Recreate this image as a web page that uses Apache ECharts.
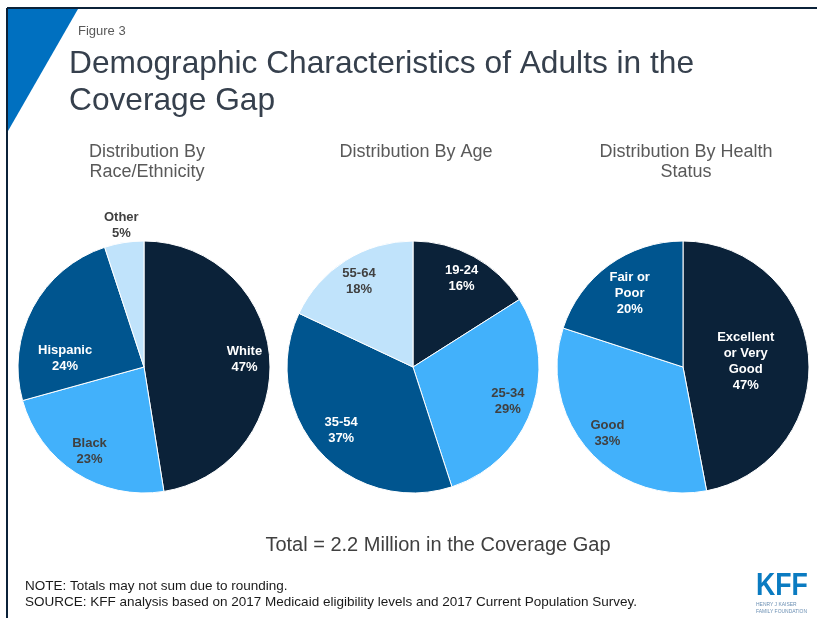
<!DOCTYPE html>
<html>
<head>
<meta charset="utf-8">
<script src="https://cdn.jsdelivr.net/npm/echarts@6/dist/echarts.min.js"></script>
<style>
  html, body { margin: 0; padding: 0; background: #ffffff; }
  #chart { width: 817px; height: 618px; }
</style>
</head>
<body>
<div id="chart"></div>
<script>
// Shares of adults in the coverage gap (percent)
const raceNames = ['White', 'Black', 'Hispanic', 'Other'];
const raceValues = [47, 23, 24, 5];

const ageNames = ['19-24', '25-34', '35-54', '55-64'];
const ageValues = [16, 29, 37, 18];

const healthNames = ['Excellent\nor Very\nGood', 'Good', 'Fair or\nPoor'];
const healthValues = [47, 33, 20];

const panelTitles = ['Distribution By\nRace/Ethnicity', 'Distribution By Age', 'Distribution By Health\nStatus'];

// Slice colours, in slice order (clockwise from 12 o'clock)
const sliceColors = ['#0b2239', '#42b1fb', '#00558f', '#c0e3fb'];
const labelColors = ['#ffffff', '#404040', '#ffffff', '#404040'];

// Where each label sits: fraction of the radius from the centre, optional angular nudge (deg)
const labelPlacement = {
  'Hispanic': { r: 0.63, turn: -22 },
  'Other': { r: 1.14 },
  '35-54': { r: 0.76 },
  'Excellent\nor Very\nGood': { r: 0.5 },
  'Fair or\nPoor': { r: 0.72 }
};

const FONT = "'Liberation Sans', Arial, Helvetica, sans-serif";
const RADIUS = 126;
const centers = [[144, 367], [413, 367], [683, 367]];
const panels = [
  { names: raceNames, values: raceValues },
  { names: ageNames, values: ageValues },
  { names: healthNames, values: healthValues }
];

function midAngles(values) {
  const total = values.reduce((a, b) => a + b, 0);
  let acc = 0;
  return values.map(v => {
    const mid = (acc + v / 2) / total * 360;
    acc += v;
    return mid;
  });
}

const series = panels.map((p, si) => {
  const mids = midAngles(p.values);
  return {
    type: 'pie',
    center: centers[si],
    radius: RADIUS,
    startAngle: 90,
    clockwise: true,
    silent: true,
    itemStyle: { borderColor: '#ffffff', borderWidth: 1 },
    label: {
      show: true,
      position: 'inside',
      formatter: '{b}\n{c}%',
      fontFamily: FONT,
      fontWeight: 'bold',
      fontSize: 13,
      lineHeight: 16,
      align: 'center'
    },
    labelLine: { show: false },
    labelLayout: function (params) {
      const name = p.names[params.dataIndex];
      const place = labelPlacement[name] || {};
      const ratio = place.r != null ? place.r : 0.8;
      const ang = (mids[params.dataIndex] + (place.turn || 0)) * Math.PI / 180;
      const c = centers[si];
      return {
        x: c[0] + Math.sin(ang) * RADIUS * ratio,
        y: c[1] - Math.cos(ang) * RADIUS * ratio,
        align: 'center',
        verticalAlign: 'middle'
      };
    },
    data: p.names.map((n, i) => ({
      name: n,
      value: p.values[i],
      itemStyle: { color: sliceColors[i] },
      label: { color: labelColors[i] }
    }))
  };
});

const subtitleGraphics = panelTitles.map((t, i) => ({
  type: 'text',
  x: centers[i][0] + 3,
  y: 142,
  style: {
    text: t,
    font: '18px ' + FONT,
    fill: '#595959',
    align: 'center',
    verticalAlign: 'top',
    lineHeight: 20
  }
}));

const chart = echarts.init(document.getElementById('chart'), null, { renderer: 'canvas' });
chart.setOption({
  animation: false,
  backgroundColor: '#ffffff',
  series: series,
  graphic: [
    // frame
    { type: 'line', shape: { x1: 7, y1: 8, x2: 817, y2: 8 }, style: { stroke: '#0b2239', lineWidth: 2 } },
    { type: 'line', shape: { x1: 7, y1: 8, x2: 7, y2: 618 }, style: { stroke: '#0b2239', lineWidth: 2 } },
    // corner accent
    { type: 'polygon', shape: { points: [[8, 9], [78, 9], [8, 131]] }, style: { fill: '#0070c0' } },
    // headings
    { type: 'text', x: 78, y: 31, style: { text: 'Figure 3', font: '13px ' + FONT, fill: '#595959', verticalAlign: 'middle' } },
    { type: 'text', x: 69, y: 64, scaleX: 0.99, style: { text: 'Demographic Characteristics of Adults in the', font: '32px ' + FONT, fill: '#36404d', verticalAlign: 'middle' } },
    { type: 'text', x: 69, y: 101, scaleX: 0.99, style: { text: 'Coverage Gap', font: '32px ' + FONT, fill: '#36404d', verticalAlign: 'middle' } },
    ...subtitleGraphics,
    { type: 'text', x: 438, y: 545, style: { text: 'Total = 2.2 Million in the Coverage Gap', font: '20px ' + FONT, fill: '#404040', align: 'center', verticalAlign: 'middle' } },
    // notes
    { type: 'text', x: 25, y: 586, style: { text: 'NOTE: Totals may not sum due to rounding.', font: '13.5px ' + FONT, fill: '#1a1a1a', verticalAlign: 'middle' } },
    { type: 'text', x: 25, y: 602, style: { text: 'SOURCE: KFF analysis based on 2017 Medicaid eligibility levels and 2017 Current Population Survey.', font: '13.5px ' + FONT, fill: '#1a1a1a', verticalAlign: 'middle' } },
    // logo
    { type: 'text', x: 756, y: 586, scaleX: 0.86, style: { text: 'KFF', font: "bold 31px " + FONT, fill: '#0a7bc1', verticalAlign: 'middle' } },
    { type: 'text', x: 756, y: 604, scaleX: 0.9, style: { text: 'HENRY J KAISER', font: '5.5px ' + FONT, fill: '#6b8fb3', verticalAlign: 'middle' } },
    { type: 'text', x: 756, y: 611, scaleX: 0.9, style: { text: 'FAMILY FOUNDATION', font: '5.5px ' + FONT, fill: '#6b8fb3', verticalAlign: 'middle' } }
  ]
});
</script>
</body>
</html>
